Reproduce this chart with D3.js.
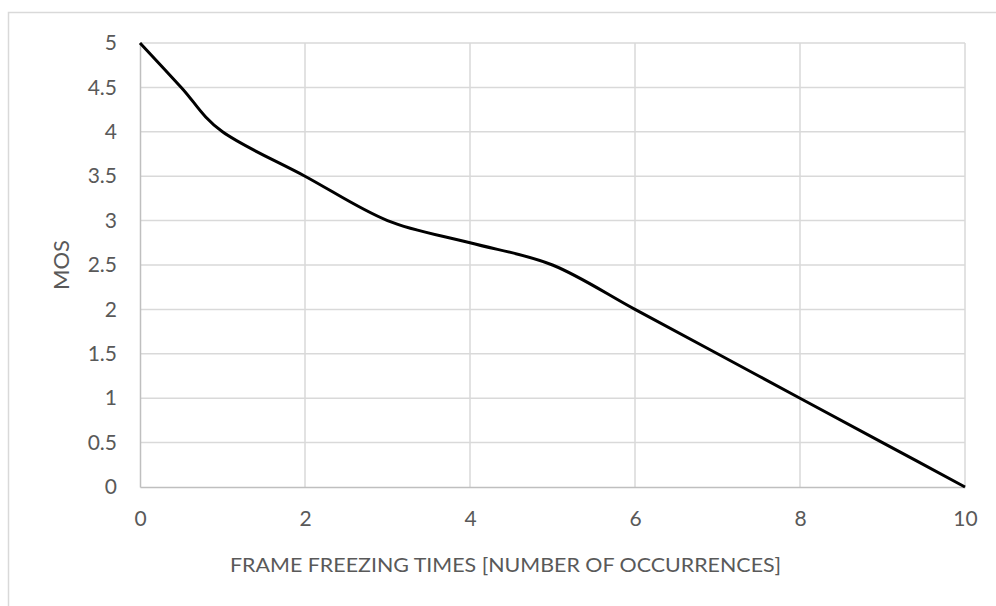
<!DOCTYPE html>
<html>
<head>
<meta charset="utf-8">
<script src="https://cdn.jsdelivr.net/npm/d3@7/dist/d3.min.js"></script>
<style>
  html, body { margin: 0; padding: 0; background: #fff; }
  svg { display: block; }
  text { font-family: Lato, "Open Sans", sans-serif; fill: #595959; }
</style>
</head>
<body>
<svg id="chart" width="996" height="606"></svg>
<script>
// Frame freezing occurrences vs. mean opinion score
const freezeCounts = [0, 0.5, 1, 2, 3, 4, 5, 6, 7, 8, 9, 10];
const mosValues    = [5, 4.5, 4, 3.5, 3, 2.75, 2.5, 2, 1.5, 1, 0.5, 0];
const xTicks = [0, 2, 4, 6, 8, 10];
const yTicks = [0, 0.5, 1, 1.5, 2, 2.5, 3, 3.5, 4, 4.5, 5];
const xTitle = "FRAME FREEZING TIMES [NUMBER OF OCCURRENCES]";
const yTitle = "MOS";

const svg = d3.select("#chart");
const W = 996, H = 606;
const plot = { left: 140, right: 965, top: 43, bottom: 487 };

// outer chart frame (top and left edges visible)
svg.append("path")
  .attr("d", `M8.5,${H} V12.5 H${W}`)
  .attr("fill", "none")
  .attr("stroke", "#d9d9d9")
  .attr("stroke-width", 1.5);

const x = d3.scaleLinear().domain([0, 10]).range([plot.left, plot.right]);
const y = d3.scaleLinear().domain([0, 5]).range([plot.bottom, plot.top]);

// gridlines
const grid = svg.append("g");
grid.selectAll("line.h").data(yTicks.filter(d => d > 0)).join("line")
  .attr("x1", plot.left).attr("x2", plot.right)
  .attr("y1", d => y(d)).attr("y2", d => y(d))
  .attr("stroke", "#d9d9d9").attr("stroke-width", 1.5);
grid.selectAll("line.v").data(xTicks.filter(d => d > 0)).join("line")
  .attr("y1", plot.top).attr("y2", plot.bottom)
  .attr("x1", d => x(d)).attr("x2", d => x(d))
  .attr("stroke", "#d9d9d9").attr("stroke-width", 1.5);

// axes
const xAxis = svg.append("g")
  .attr("transform", `translate(0,${plot.bottom})`)
  .attr("font-size", 21)
  .call(d3.axisBottom(x).tickValues(xTicks).tickSize(0).tickPadding(24).tickFormat(d3.format("")));
xAxis.attr("font-size", 21);
xAxis.select(".domain").attr("stroke", "#bfbfbf").attr("stroke-width", 1.5);
xAxis.selectAll("text").attr("fill", "#595959");

const yAxis = svg.append("g")
  .attr("transform", `translate(${plot.left},0)`)
  .call(d3.axisLeft(y).tickValues(yTicks).tickSize(0).tickPadding(23).tickFormat(d3.format("")));
yAxis.attr("font-size", 21);
yAxis.select(".domain").attr("stroke", "#bfbfbf").attr("stroke-width", 1.5);
yAxis.selectAll("text").attr("fill", "#595959");

// axis titles
svg.append("text")
  .attr("x", (plot.left + plot.right) / 2 - 47)
  .attr("y", 572)
  .attr("text-anchor", "middle")
  .attr("textLength", 551)
  .attr("lengthAdjust", "spacingAndGlyphs")
  .attr("font-size", 20)
  .text(xTitle);

svg.append("text")
  .attr("transform", `translate(69,${(plot.top + plot.bottom) / 2}) rotate(-90)`)
  .attr("text-anchor", "middle")
  .attr("font-size", 22)
  .text(yTitle);

// smoothed MOS curve
const pts = freezeCounts.map((c, i) => [c, mosValues[i]]);
svg.append("path")
  .datum(pts)
  .attr("fill", "none")
  .attr("stroke", "#000")
  .attr("stroke-width", 3)
  .attr("stroke-linejoin", "round")
  .attr("d", d3.line().x(d => x(d[0])).y(d => y(d[1])).curve(d3.curveCardinal.tension(0)));
</script>
</body>
</html>
